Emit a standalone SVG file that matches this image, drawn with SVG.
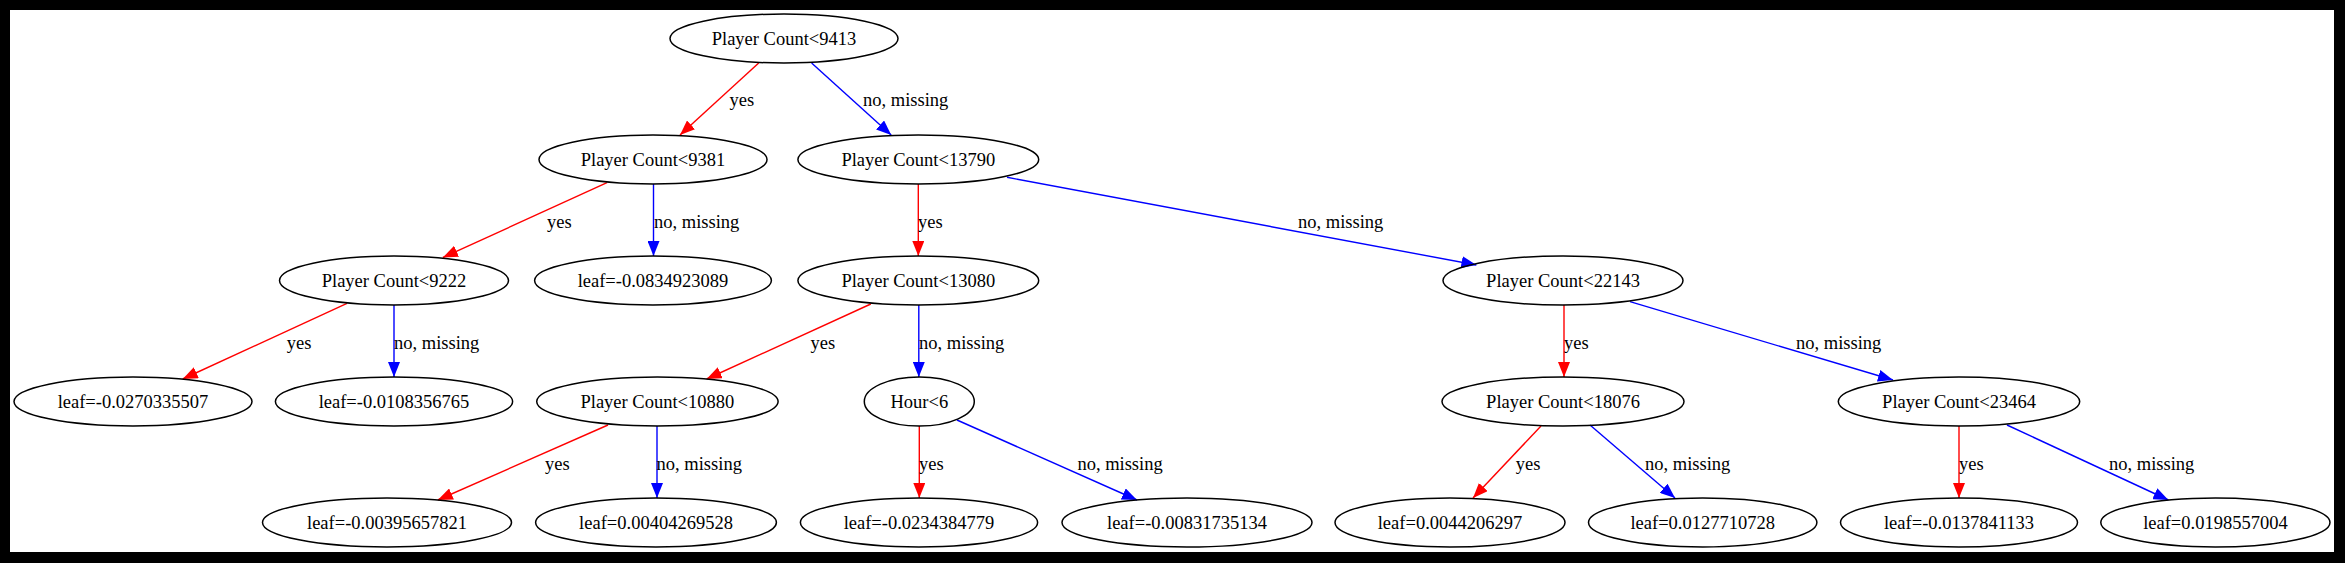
<svg xmlns="http://www.w3.org/2000/svg" width="2345" height="563" viewBox="0 0 2345 563">
<style>
.node ellipse{fill:none;stroke:#000;stroke-width:1.5}
text{font-family:"Liberation Serif","Times New Roman",serif;font-size:18.5px;fill:#000}
.node text{text-anchor:middle}
.y{stroke:#ff0000;stroke-width:1.4;fill:none;marker-end:url(#ar)}
.n{stroke:#0000ff;stroke-width:1.4;fill:none;marker-end:url(#ab)}
</style>
<defs>
<marker id="ar" viewBox="0 0 15 12" refX="15" refY="6" markerWidth="15" markerHeight="12" markerUnits="userSpaceOnUse" orient="auto"><path d="M0,0 L15,6 L0,12 z" fill="#ff0000"/></marker>
<marker id="ab" viewBox="0 0 15 12" refX="15" refY="6" markerWidth="15" markerHeight="12" markerUnits="userSpaceOnUse" orient="auto"><path d="M0,0 L15,6 L0,12 z" fill="#0000ff"/></marker>
</defs>
<rect x="0" y="0" width="2345" height="563" fill="#000"/>
<rect x="10" y="10" width="2324" height="542" fill="#fff"/>
<g id="connectors">
<line class="y" x1="758.7" y1="63" x2="680" y2="135"/>
<text x="729.6" y="106">yes</text>
<line class="n" x1="811.6" y1="63" x2="891.2" y2="135"/>
<text x="863" y="106">no, missing</text>
<line class="y" x1="607" y1="182.7" x2="442.9" y2="257.5"/>
<text x="547" y="227.5">yes</text>
<line class="n" x1="653.5" y1="184" x2="653.5" y2="256"/>
<text x="654" y="227.5">no, missing</text>
<line class="y" x1="918.3" y1="184" x2="918.3" y2="256"/>
<text x="918" y="227.5">yes</text>
<line class="n" x1="1007" y1="177.3" x2="1476.4" y2="265"/>
<text x="1298" y="227.5">no, missing</text>
<line class="y" x1="347" y1="303.3" x2="182.7" y2="379"/>
<text x="286.7" y="348.5">yes</text>
<line class="n" x1="394" y1="305" x2="394" y2="377"/>
<text x="394" y="348.5">no, missing</text>
<line class="y" x1="870.8" y1="304" x2="706.6" y2="379"/>
<text x="810.6" y="348.5">yes</text>
<line class="n" x1="918.8" y1="305" x2="918.8" y2="377"/>
<text x="919" y="348.5">no, missing</text>
<line class="y" x1="1564" y1="305" x2="1564" y2="377"/>
<text x="1564" y="348.5">yes</text>
<line class="n" x1="1630" y1="301.7" x2="1893" y2="380"/>
<text x="1796" y="348.5">no, missing</text>
<line class="y" x1="608" y1="425" x2="437.8" y2="500"/>
<text x="545" y="469.5">yes</text>
<line class="n" x1="657" y1="426" x2="657" y2="498"/>
<text x="656.6" y="469.5">no, missing</text>
<line class="y" x1="919.3" y1="426" x2="919.3" y2="498"/>
<text x="919" y="469.5">yes</text>
<line class="n" x1="957" y1="420" x2="1137" y2="500"/>
<text x="1077.4" y="469.5">no, missing</text>
<line class="y" x1="1541" y1="426" x2="1473" y2="498"/>
<text x="1515.7" y="469.5">yes</text>
<line class="n" x1="1590" y1="425" x2="1675" y2="498"/>
<text x="1645" y="469.5">no, missing</text>
<line class="y" x1="1959" y1="426" x2="1959" y2="498"/>
<text x="1959" y="469.5">yes</text>
<line class="n" x1="2007" y1="425" x2="2168.4" y2="500"/>
<text x="2109" y="469.5">no, missing</text>
</g>
<g id="n0" class="node"><ellipse cx="784" cy="38.5" rx="114" ry="24.5"/><text x="784" y="45">Player Count&lt;9413</text></g>
<g id="n1" class="node"><ellipse cx="653" cy="159.5" rx="114" ry="24.5"/><text x="653" y="166">Player Count&lt;9381</text></g>
<g id="n2" class="node"><ellipse cx="918.3" cy="159.5" rx="120.4" ry="24.5"/><text x="918.3" y="166">Player Count&lt;13790</text></g>
<g id="n3" class="node"><ellipse cx="394" cy="280.5" rx="114.5" ry="24.5"/><text x="394" y="287">Player Count&lt;9222</text></g>
<g id="n4" class="node"><ellipse cx="653" cy="280.5" rx="118.4" ry="24.5"/><text x="653" y="287">leaf=-0.0834923089</text></g>
<g id="n5" class="node"><ellipse cx="918.3" cy="280.5" rx="120.4" ry="24.5"/><text x="918.3" y="287">Player Count&lt;13080</text></g>
<g id="n6" class="node"><ellipse cx="1563" cy="280.5" rx="120" ry="24.5"/><text x="1563" y="287">Player Count&lt;22143</text></g>
<g id="n7" class="node"><ellipse cx="133" cy="401.5" rx="119" ry="24.5"/><text x="133" y="408">leaf=-0.0270335507</text></g>
<g id="n8" class="node"><ellipse cx="394" cy="401.5" rx="118.6" ry="24.5"/><text x="394" y="408">leaf=-0.0108356765</text></g>
<g id="n9" class="node"><ellipse cx="657.4" cy="401.5" rx="120.7" ry="24.5"/><text x="657.4" y="408">Player Count&lt;10880</text></g>
<g id="n10" class="node"><ellipse cx="919.3" cy="401.5" rx="55" ry="24.5"/><text x="919.3" y="408">Hour&lt;6</text></g>
<g id="n11" class="node"><ellipse cx="1563" cy="401.5" rx="121" ry="24.5"/><text x="1563" y="408">Player Count&lt;18076</text></g>
<g id="n12" class="node"><ellipse cx="1959" cy="401.5" rx="120.7" ry="24.5"/><text x="1959" y="408">Player Count&lt;23464</text></g>
<g id="n13" class="node"><ellipse cx="387" cy="522.5" rx="124.5" ry="24.5"/><text x="387" y="529">leaf=-0.00395657821</text></g>
<g id="n14" class="node"><ellipse cx="656" cy="522.5" rx="120.4" ry="24.5"/><text x="656" y="529">leaf=0.00404269528</text></g>
<g id="n15" class="node"><ellipse cx="919" cy="522.5" rx="118.6" ry="24.5"/><text x="919" y="529">leaf=-0.0234384779</text></g>
<g id="n16" class="node"><ellipse cx="1187" cy="522.5" rx="125" ry="24.5"/><text x="1187" y="529">leaf=-0.00831735134</text></g>
<g id="n17" class="node"><ellipse cx="1450" cy="522.5" rx="115" ry="24.5"/><text x="1450" y="529">leaf=0.0044206297</text></g>
<g id="n18" class="node"><ellipse cx="1702.7" cy="522.5" rx="114.2" ry="24.5"/><text x="1702.7" y="529">leaf=0.0127710728</text></g>
<g id="n19" class="node"><ellipse cx="1959" cy="522.5" rx="118.5" ry="24.5"/><text x="1959" y="529">leaf=-0.0137841133</text></g>
<g id="n20" class="node"><ellipse cx="2215.4" cy="522.5" rx="114.6" ry="24.5"/><text x="2215.4" y="529">leaf=0.0198557004</text></g>
</svg>
